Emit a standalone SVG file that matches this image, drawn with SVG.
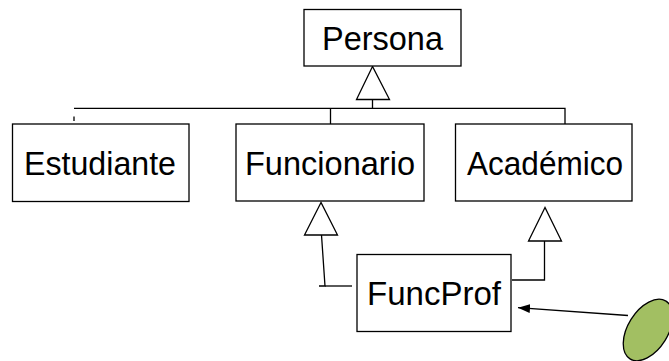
<svg xmlns="http://www.w3.org/2000/svg" width="669" height="361" viewBox="0 0 669 361">
  <style>
    .box { fill: #ffffff; stroke: #000000; stroke-width: 1.3; }
    .lbl { font-family: "Liberation Sans", Arial, sans-serif; font-size: 33px; fill: #000000; text-anchor: middle; }
    .ln { fill: none; stroke: #000000; stroke-width: 1.3; }
    .tri { fill: #ffffff; stroke: #000000; stroke-width: 1.3; stroke-linejoin: miter; }
  </style>
  <defs>
    <marker id="arrow" viewBox="0 0 12 9" refX="12" refY="4.5" markerWidth="12" markerHeight="9" markerUnits="userSpaceOnUse" orient="auto">
      <path d="M0,0 L12,4.5 L0,9 z" fill="#000000"/>
    </marker>
  </defs>
  <rect width="669" height="361" fill="#ffffff"/>

  <g id="connectors">
    <!-- generalization tree to Persona -->
    <polyline class="ln" points="74,108.3 565,108.3 565,124"/>
    <line class="ln" x1="372.5" y1="99.5" x2="372.5" y2="108.3"/>
    <line class="ln" x1="330.5" y1="108.3" x2="330.5" y2="124"/>
    <line class="ln" x1="74" y1="116.5" x2="74" y2="121"/>
    <polygon class="tri" points="372.5,66.5 356.5,99.5 389.5,99.5"/>
    <!-- FuncProf to Funcionario -->
    <polyline class="ln" points="321.5,235 325,286 319,286"/>
    <line class="ln" x1="325" y1="286" x2="352" y2="286"/>
    <polygon class="tri" points="321,202.5 304.5,235 337.5,235"/>
    <!-- FuncProf to Académico -->
    <polyline class="ln" points="512,280 544.5,280 544.5,241"/>
    <polygon class="tri" points="545,207.5 528.5,241 561.5,241"/>
    <!-- association arrow -->
    <line class="ln" x1="628" y1="315.5" x2="518" y2="307.7" marker-end="url(#arrow)"/>
  </g>

  <g id="persona">
    <rect class="box" x="304" y="9.5" width="157" height="56.5"/>
    <text class="lbl" x="382.5" y="50" textLength="121" lengthAdjust="spacingAndGlyphs">Persona</text>
  </g>
  <g id="estudiante">
    <rect class="box" x="12.5" y="124" width="176.5" height="77.5"/>
    <text class="lbl" x="100" y="175" textLength="152" lengthAdjust="spacingAndGlyphs">Estudiante</text>
  </g>
  <g id="funcionario">
    <rect class="box" x="236" y="124" width="188" height="77"/>
    <text class="lbl" x="330" y="175" textLength="170" lengthAdjust="spacingAndGlyphs">Funcionario</text>
  </g>
  <g id="academico">
    <rect class="box" x="455.5" y="124" width="176.5" height="77"/>
    <text class="lbl" x="545" y="175" textLength="156" lengthAdjust="spacingAndGlyphs">Académico</text>
  </g>
  <g id="funcprof">
    <rect class="box" x="357" y="254.5" width="154" height="77"/>
    <text class="lbl" x="434" y="305" textLength="134" lengthAdjust="spacingAndGlyphs">FuncProf</text>
  </g>
  <g id="actor">
    <ellipse cx="648" cy="330" rx="34" ry="20" transform="rotate(-58 648 330)" fill="#a2bf62" stroke="#000000" stroke-width="1.3"/>
  </g>
</svg>
